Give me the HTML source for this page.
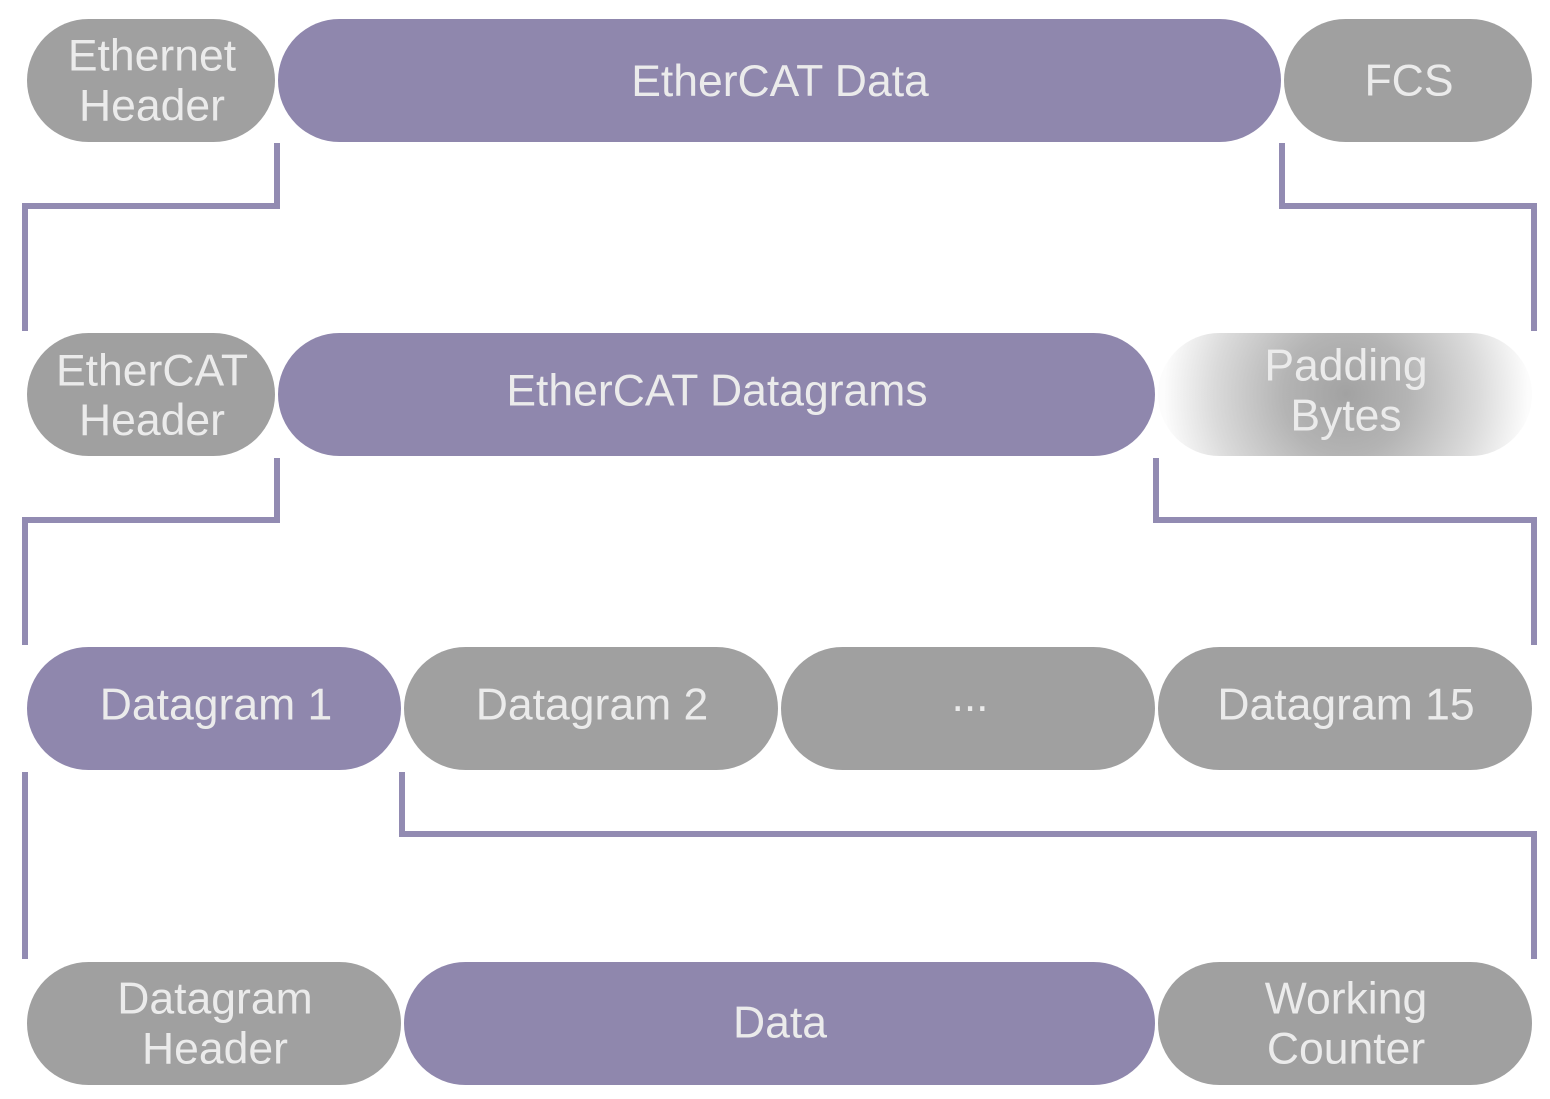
<!DOCTYPE html>
<html>
<head>
<meta charset="utf-8">
<style>
html,body{margin:0;padding:0;background:#fff;width:1550px;height:1099px;overflow:hidden}
svg{display:block}
text{font-family:"Liberation Sans",Arial,sans-serif;font-size:44.5px;fill:#ebebeb;text-anchor:middle}
.g{fill:#a0a0a0}
.p{fill:#8f87ad}
.l{fill:none;stroke:#928bb2;stroke-width:6;stroke-linejoin:miter}
</style>
</head>
<body>
<svg width="1550" height="1099" viewBox="0 0 1550 1099" xmlns="http://www.w3.org/2000/svg">
<defs>
<radialGradient id="fade" gradientUnits="userSpaceOnUse" cx="1346" cy="394" r="188">
<stop offset="0" stop-color="#a2a2a2"/>
<stop offset="0.33" stop-color="#b4b4b4"/>
<stop offset="0.7" stop-color="#dadada"/>
<stop offset="0.97" stop-color="#fcfcfc"/>
</radialGradient>
</defs>

<!-- Row 1 -->
<rect class="g" x="27" y="19" width="248" height="123" rx="61.5"/>
<rect class="p" x="278" y="19" width="1003" height="123" rx="61.5"/>
<rect class="g" x="1284" y="19" width="248" height="123" rx="61.5"/>
<text x="152" y="70.5">Ethernet</text>
<text x="152" y="120.5">Header</text>
<text x="780" y="96">EtherCAT Data</text>
<text x="1409" y="95.5">FCS</text>

<path class="l" d="M277 143V206H25V331"/>
<path class="l" d="M1282 143V206H1534V331"/>

<!-- Row 2 -->
<rect class="g" x="27" y="333" width="248" height="123" rx="61.5"/>
<rect class="p" x="278" y="333" width="877" height="123" rx="61.5"/>
<rect x="1158" y="333" width="374" height="123" rx="61.5" fill="url(#fade)"/>
<text x="152" y="385.5">EtherCAT</text>
<text x="152" y="435">Header</text>
<text x="717" y="405.5">EtherCAT Datagrams</text>
<text x="1346" y="380.5">Padding</text>
<text x="1346" y="430.5">Bytes</text>

<path class="l" d="M277 458V520H25V645"/>
<path class="l" d="M1156 458V520H1534V645"/>

<!-- Row 3 -->
<rect class="p" x="27" y="647" width="374" height="123" rx="61.5"/>
<rect class="g" x="404" y="647" width="374" height="123" rx="61.5"/>
<rect class="g" x="781" y="647" width="374" height="123" rx="61.5"/>
<rect class="g" x="1158" y="647" width="374" height="123" rx="61.5"/>
<text x="216" y="719.5">Datagram 1</text>
<text x="592" y="719.5">Datagram 2</text>
<text x="970" y="711">...</text>
<text x="1346" y="719.5">Datagram 15</text>

<path class="l" d="M25 772V959"/>
<path class="l" d="M402 772V834H1534V959"/>

<!-- Row 4 -->
<rect class="g" x="27" y="962" width="374" height="123" rx="61.5"/>
<rect class="p" x="404" y="962" width="751" height="123" rx="61.5"/>
<rect class="g" x="1158" y="962" width="374" height="123" rx="61.5"/>
<text x="215" y="1013.5">Datagram</text>
<text x="215" y="1063.5">Header</text>
<text x="780" y="1037.5">Data</text>
<text x="1346" y="1013.5">Working</text>
<text x="1346" y="1063.5">Counter</text>
</svg>
</body>
</html>
